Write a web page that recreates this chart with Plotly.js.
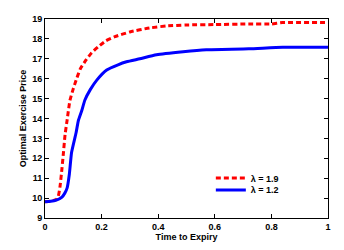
<!DOCTYPE html>
<html><head><meta charset="utf-8">
<script src="https://cdn.plot.ly/plotly-3.0.1.min.js"></script>
<style>html,body{margin:0;padding:0;background:#fff}#chart{width:344px;height:250px}</style>
</head><body><div id="chart"></div>
<script>
const xRed = [0, 0.02, 0.04, 0.047, 0.053, 0.06, 0.065, 0.071, 0.078, 0.088, 0.1, 0.11, 0.125, 0.145, 0.165, 0.188, 0.215, 0.247, 0.3, 0.37, 0.43, 0.5, 0.6, 0.72, 0.8, 0.84, 1.0];
const yRed = [9.82, 9.85, 9.93, 10.1, 10.57, 11.5, 12.26, 13.2, 13.9, 14.9, 15.5, 15.93, 16.5, 16.94, 17.3, 17.6, 17.9, 18.11, 18.35, 18.55, 18.65, 18.7, 18.72, 18.75, 18.75, 18.82, 18.82];
const xBlue = [0, 0.02, 0.04, 0.06, 0.07, 0.078, 0.086, 0.094, 0.11, 0.118, 0.13, 0.141, 0.16, 0.183, 0.218, 0.258, 0.288, 0.335, 0.394, 0.488, 0.57, 0.72, 0.84, 1.0];
const yBlue = [9.82, 9.84, 9.9, 10.05, 10.25, 10.5, 11.2, 12.3, 13.3, 13.9, 14.4, 14.93, 15.45, 15.93, 16.44, 16.7, 16.85, 17.0, 17.2, 17.35, 17.45, 17.5, 17.58, 17.58];
const names = ['λ = 1.9', 'λ = 1.2'];
const xTicks = [0, 0.2, 0.4, 0.6, 0.8, 1];
const xTickText = ['0', '0.2', '0.4', '0.6', '0.8', '1'];
const yTicks = [9, 10, 11, 12, 13, 14, 15, 16, 17, 18, 19];

const font = {family: 'Liberation Sans, Arial, sans-serif', size: 9, color: '#000', weight: 'bold'};
const traces = [
  {x: xRed, y: yRed, name: names[0], mode: 'lines', legend: 'legend', line: {color: '#ff0000', width: 3, dash: '5px,3px', shape: 'spline', smoothing: 0.5}},
  {x: xBlue, y: yBlue, name: names[1], mode: 'lines', legend: 'legend2', line: {color: '#0000ff', width: 3, shape: 'spline', smoothing: 0.5}}
];
const axisCommon = {showgrid: false, zeroline: false, showline: true, linecolor: '#000', linewidth: 1,
  mirror: 'ticks', ticks: 'inside', ticklen: 4, tickcolor: '#000', tickfont: font};
const legendCommon = {xanchor: 'left', yanchor: 'middle', bgcolor: 'rgba(0,0,0,0)', font: font, borderwidth: 0};
const layout = {
  width: 344, height: 250,
  margin: {l: 45, r: 16, t: 19, b: 32},
  paper_bgcolor: '#fff', plot_bgcolor: '#fff',
  font: font,
  showlegend: true,
  legend: Object.assign({}, legendCommon, {x: 0.586, y: 0.201}),
  legend2: Object.assign({}, legendCommon, {x: 0.586, y: 0.141}),
  xaxis: Object.assign({}, axisCommon, {range: [0, 1], tickvals: xTicks, ticktext: xTickText,
    title: {text: 'Time to Expiry', font: font, standoff: 2}}),
  yaxis: Object.assign({}, axisCommon, {range: [9, 19], tickvals: yTicks,
    title: {text: 'Optimal Exercise Price', font: font, standoff: 4}})
};
Plotly.newPlot('chart', traces, layout, {staticPlot: true, displayModeBar: false});
</script></body></html>
